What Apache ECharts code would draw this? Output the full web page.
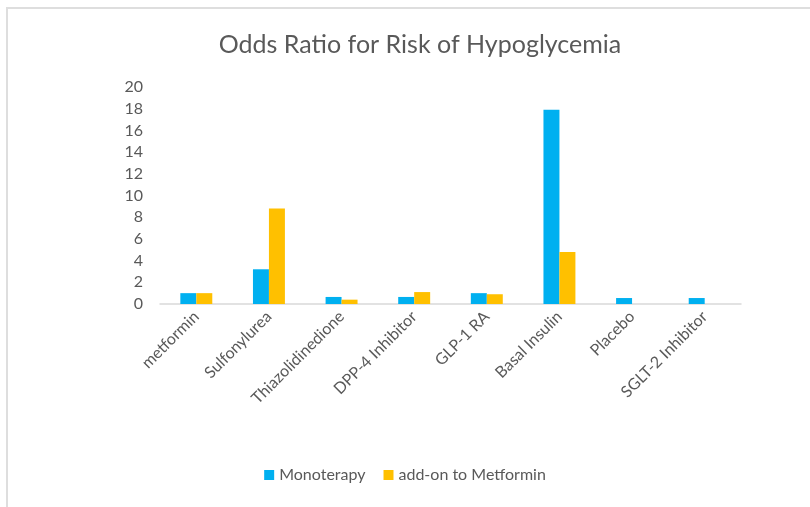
<!DOCTYPE html>
<html>
<head>
<meta charset="utf-8">
<script src="https://cdn.jsdelivr.net/npm/echarts@6/dist/echarts.min.js"></script>
<style>
  html, body { margin: 0; padding: 0; background: #fff; }
  #chart { width: 810px; height: 507px; position: relative; }
  .frame { position: absolute; left: 6px; top: 7px; right: 0; bottom: 0;
    border-top: 2px solid #dedede; border-left: 2px solid #dedede; pointer-events: none; }
</style>
</head>
<body>
<div id="chart"></div>
<div class="frame"></div>
<script>
// categories and values
const categories = ['metformin', 'Sulfonylurea', 'Thiazolidinedione', 'DPP-4 Inhibitor', 'GLP-1 RA', 'Basal Insulin', 'Placebo', 'SGLT-2 Inhibitor']
const monoterapy = [1.0, 3.2, 0.65, 0.65, 1.0, 17.9, 0.55, 0.55]
const addOnMetformin = [1.0, 8.8, 0.4, 1.1, 0.9, 4.8, null, null]

const font = 'Lato, "Open Sans", sans-serif'
const textColor = '#595959'

const chart = echarts.init(document.getElementById('chart'))
const option = {
  animation: false,
  title: {
    text: 'Odds Ratio for Risk of Hypoglycemia',
    left: 415,
    textAlign: 'center',
    top: 27,
    textStyle: { fontFamily: font, fontSize: 25, fontWeight: 'normal', color: textColor },
  },
  legend: {
    bottom: 19,
    left: 'center',
    itemWidth: 10,
    itemHeight: 10,
    itemGap: 18,
    icon: 'rect',
    textStyle: { fontFamily: font, fontSize: 16, color: textColor },
    data: ['Monoterapy', 'add-on to Metformin'],
  },
  grid: {
    left: 160,
    right: 69,
    top: 87,
    bottom: 203,
    containLabel: false,
  },
  xAxis: {
    type: 'category',
    data: categories,
    axisLine: { lineStyle: { color: '#d9d9d9', width: 1.5 } },
    axisTick: { show: false },
    axisLabel: {
      rotate: 45,
      margin: 10,
      interval: 0,
      fontFamily: font,
      fontSize: 16,
      color: textColor,
    },
  },
  yAxis: {
    type: 'value',
    min: 0,
    max: 20,
    interval: 2,
    axisLine: { show: false },
    axisTick: { show: false },
    splitLine: { show: false },
    axisLabel: { margin: 17, fontFamily: font, fontSize: 16, color: textColor },
  },
  series: [
    {
      name: 'Monoterapy',
      type: 'bar',
      data: monoterapy,
      barGap: '0%',
      barCategoryGap: '56%',
      itemStyle: { color: '#00b0f0' },
    },
    {
      name: 'add-on to Metformin',
      type: 'bar',
      data: addOnMetformin,
      itemStyle: { color: '#ffc000' },
    },
  ],
}
chart.setOption(option)
</script>
</body>
</html>
